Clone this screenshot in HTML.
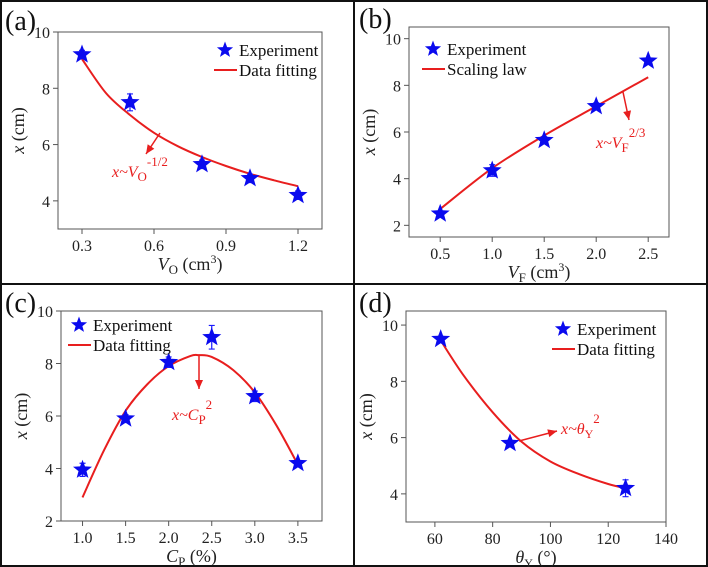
<!DOCTYPE html>
<html><head><meta charset="utf-8">
<style>
html,body{margin:0;padding:0;background:#fff;}
svg{display:block;font-family:"Liberation Serif",serif;}
.tick{font-size:16px;fill:#222;}
.lab{font-size:18px;fill:#222;}
.leg{font-size:17px;fill:#111;}
.ann{font-size:16px;fill:#e81e1e;font-style:italic;}
</style></head>
<body>
<svg id="fig" width="708" height="567" viewBox="0 0 708 567" xmlns="http://www.w3.org/2000/svg">
<rect x="1" y="1" width="706" height="565" fill="none" stroke="#111" stroke-width="2"/>
<line x1="354" y1="0" x2="354" y2="567" stroke="#111" stroke-width="2"/>
<line x1="0" y1="284" x2="708" y2="284" stroke="#111" stroke-width="2"/>
</svg>
<script>
// Panel (a)
const aX=[0.3,0.5,0.8,1.0,1.2];
const aY=[9.2,7.5,5.3,4.8,4.2];
const aErr=[0.15,0.3,0.15,0.15,0.15];
const aFitX=[0.3,0.4,0.5,0.6,0.7,0.8,0.9,1.0,1.1,1.2];
const aFitY=[9.04,7.83,7.05,6.42,5.94,5.56,5.24,4.96,4.73,4.52];
const aXTicks=[0.3,0.6,0.9,1.2];
const aXTickLabels=["0.3","0.6","0.9","1.2"];
const aYTicks=[4,6,8,10];
// Panel (b)
const bX=[0.5,1.0,1.5,2.0,2.5];
const bY=[2.5,4.35,5.65,7.1,9.05];
const bErr=[0.1,0.25,0.15,0.15,0.1];
const bFitX=[0.5,1.0,1.5,2.0,2.5];
const bFitY=[2.7,4.45,5.85,7.1,8.35];
const bXTicks=[0.5,1.0,1.5,2.0,2.5];
const bXTickLabels=["0.5","1.0","1.5","2.0","2.5"];
const bYTicks=[2,4,6,8,10];
// Panel (c)
const cX=[1.0,1.5,2.0,2.5,3.0,3.5];
const cY=[3.95,5.9,8.05,9.0,6.75,4.2];
const cErr=[0.25,0.15,0.2,0.45,0.2,0.1];
const cFitX=[1.0,1.25,1.5,1.75,2.0,2.25,2.35,2.5,2.75,3.0,3.25,3.5];
const cFitY=[2.9,4.7,6.2,7.2,7.9,8.28,8.32,8.25,7.75,6.9,5.65,4.15];
const cXTicks=[1.0,1.5,2.0,2.5,3.0,3.5];
const cXTickLabels=["1.0","1.5","2.0","2.5","3.0","3.5"];
const cYTicks=[2,4,6,8,10];
// Panel (d)
const dX=[62,86,126];
const dY=[9.5,5.8,4.2];
const dErr=[0.1,0.1,0.3];
const dFitX=[62,70,80,90,100,110,120,126];
const dFitY=[9.45,8.2,6.9,5.85,5.15,4.7,4.35,4.2];
const dXTicks=[60,80,100,120,140];
const dXTickLabels=["60","80","100","120","140"];
const dYTicks=[4,6,8,10];

const NS="http://www.w3.org/2000/svg";
const svg=document.getElementById('fig');
function mk(tag,attrs,parent,txt){const e=document.createElementNS(NS,tag);for(const k in attrs)e.setAttribute(k,attrs[k]);if(txt!==undefined)e.textContent=txt;(parent||svg).appendChild(e);return e;}
function starPath(cx,cy,r){let d="";for(let i=0;i<10;i++){const rr=i%2?r*0.42:r;const a=-Math.PI/2+i*Math.PI/5;d+=(i?"L":"M")+(cx+rr*Math.cos(a)).toFixed(1)+","+(cy+rr*Math.sin(a)).toFixed(1);}return d+"Z";}
function smooth(pts){let d="M"+pts[0][0]+","+pts[0][1];for(let i=0;i<pts.length-1;i++){const p0=pts[Math.max(0,i-1)],p1=pts[i],p2=pts[i+1],p3=pts[Math.min(pts.length-1,i+2)];const c1=[p1[0]+(p2[0]-p0[0])/6,p1[1]+(p2[1]-p0[1])/6];const c2=[p2[0]-(p3[0]-p1[0])/6,p2[1]-(p3[1]-p1[1])/6];d+="C"+c1.join(",")+" "+c2.join(",")+" "+p2.join(",");}return d;}

function panel(o){
  const g=mk('g',{});
  
  
  const sx=v=>o.L+(v-o.x0)/(o.x1-o.x0)*(o.R-o.L);
  const sy=v=>o.B-(v-o.y0)/(o.y1-o.y0)*(o.B-o.T);
  const t=mk('text',{x:o.pl[0],y:o.pl[1],'font-size':'28',fill:'#111'},g,'('+o.id+')');
  
  
  const fr=mk('rect',{x:o.L,y:o.T,width:o.R-o.L,height:o.B-o.T,fill:'none',stroke:'#555','stroke-width':1},g);
  
  
  o.xt.forEach((v,i)=>{
    const x=sx(v);
    mk('line',{x1:x,y1:o.B,x2:x,y2:o.B+5,stroke:'#555'},g);
    const tl=mk('text',{x:x,y:o.B+22,'text-anchor':'middle',class:'tick'},g,o.xl[i]);
    
    
  });
  o.yt.forEach(v=>{
    const y=sy(v);
    mk('line',{x1:o.L-5,y1:y,x2:o.L,y2:y,stroke:'#555'},g);
    const tl=mk('text',{x:o.L-8,y:y+6,'text-anchor':'end',class:'tick'},g,String(v));
    
    
  });
  const yl=mk('text',{x:0,y:0,'text-anchor':'middle',class:'lab',transform:`translate(${o.L-34},${(o.T+o.B)/2}) rotate(-90)`},g);
  yl.innerHTML='<tspan font-style="italic">x</tspan> (cm)';
  
  
  const xl=mk('text',{x:(o.L+o.R)/2,y:o.B+41,'text-anchor':'middle',class:'lab'},g);
  xl.innerHTML=o.xlab;
  
  
  const fit=mk('path',{d:smooth(o.fx.map((v,i)=>[+sx(v).toFixed(1),+sy(o.fy[i]).toFixed(1)])),fill:'none',stroke:'#e81e1e','stroke-width':2},g);
  
  
  o.px.forEach((v,i)=>{
    const x=sx(v),y=sy(o.py[i]);
    const e=o.pe[i];
    const eb=mk('path',{d:`M${x},${sy(o.py[i]+e)}V${sy(o.py[i]-e)}M${x-3},${sy(o.py[i]+e)}h6M${x-3},${sy(o.py[i]-e)}h6`,stroke:'#1a1aff','stroke-width':1.2,fill:'none'},g);
    
    
    const s=mk('path',{d:starPath(x,y,10),fill:'#0a0aee'},g);
    
    
  });
  const [lx,ly]=o.leg;
  const ls=mk('path',{d:starPath(lx+11,ly,8.5),fill:'#0a0aee'},g);
  
  
  const lt1=mk('text',{x:lx+25,y:ly+6,class:'leg'},g,'Experiment');
  
  
  const ll=mk('line',{x1:lx,y1:ly+20,x2:lx+23,y2:ly+20,stroke:'#e81e1e','stroke-width':2},g);
  
  
  const lt2=mk('text',{x:lx+25,y:ly+26,class:'leg'},g,o.fitName);
  
  
  const [ax1,ay1,ax2,ay2]=o.arrow;
  const ar=mk('line',{x1:ax1,y1:ay1,x2:ax2,y2:ay2,stroke:'#e81e1e','stroke-width':1.5},g);
  
  
  const ang=Math.atan2(ay2-ay1,ax2-ax1);
  const hp=[[ax2,ay2],[ax2-9*Math.cos(ang)+4*Math.sin(ang),ay2-9*Math.sin(ang)-4*Math.cos(ang)],[ax2-9*Math.cos(ang)-4*Math.sin(ang),ay2-9*Math.sin(ang)+4*Math.cos(ang)]];
  const ah=mk('polygon',{points:hp.map(p=>p.join(',')).join(' '),fill:'#e81e1e'},g);
  
  
  const an=mk('text',{x:o.annPos[0],y:o.annPos[1],class:'ann'},g);
  an.innerHTML=o.ann;
  
  
}

panel({id:'a',L:58,T:32,R:322,B:229,x0:0.2,x1:1.3,y0:3,y1:10,pl:[5,30],
  xt:aXTicks,xl:aXTickLabels,yt:aYTicks,px:aX,py:aY,pe:aErr,fx:aFitX,fy:aFitY,
  xlab:'<tspan font-style="italic">V</tspan><tspan font-size="13" dy="4">O</tspan><tspan dy="-4"> (cm</tspan><tspan font-size="12" dy="-7">3</tspan><tspan dy="7">)</tspan>',
  leg:[214,50],fitName:'Data fitting',arrow:[160,133,146,154],annPos:[112,177],
  ann:'x~V<tspan font-size="13" dy="4" font-style="normal">O</tspan><tspan font-size="13" dy="-15" font-style="normal">-1/2</tspan>'});
panel({id:'b',L:409,T:27,R:669,B:237,x0:0.2,x1:2.7,y0:1.5,y1:10.5,pl:[359,28],
  xt:bXTicks,xl:bXTickLabels,yt:bYTicks,px:bX,py:bY,pe:bErr,fx:bFitX,fy:bFitY,
  xlab:'<tspan font-style="italic">V</tspan><tspan font-size="13" dy="4">F</tspan><tspan dy="-4"> (cm</tspan><tspan font-size="12" dy="-7">3</tspan><tspan dy="7">)</tspan>',
  leg:[422,49],fitName:'Scaling law',arrow:[623,92,629,120],annPos:[596,148],
  ann:'x~V<tspan font-size="13" dy="4" font-style="normal">F</tspan><tspan font-size="13" dy="-15" font-style="normal">2/3</tspan>'});
panel({id:'c',L:61,T:311,R:322,B:521,x0:0.75,x1:3.78,y0:2,y1:10,pl:[5,312],
  xt:cXTicks,xl:cXTickLabels,yt:cYTicks,px:cX,py:cY,pe:cErr,fx:cFitX,fy:cFitY,
  xlab:'<tspan font-style="italic">C</tspan><tspan font-size="13" dy="4">P</tspan><tspan dy="-4"> (%)</tspan>',
  leg:[68,325],fitName:'Data fitting',arrow:[199,355,199,389],annPos:[172,420],
  ann:'x~C<tspan font-size="13" dy="4" font-style="normal">P</tspan><tspan font-size="13" dy="-15" font-style="normal">2</tspan>'});
panel({id:'d',L:406,T:311,R:666,B:522,x0:50,x1:140,y0:3,y1:10.5,pl:[359,312],
  xt:dXTicks,xl:dXTickLabels,yt:dYTicks,px:dX,py:dY,pe:dErr,fx:dFitX,fy:dFitY,
  xlab:'<tspan font-style="italic">θ</tspan><tspan font-size="12" dy="4">Y</tspan><tspan dy="-4"> (°)</tspan>',
  leg:[552,329],fitName:'Data fitting',arrow:[519,441,557,431],annPos:[561,434],
  ann:'x~θ<tspan font-size="12" dy="4" font-style="normal">Y</tspan><tspan font-size="13" dy="-15" font-style="normal">2</tspan>'});
</script>
</body></html>
